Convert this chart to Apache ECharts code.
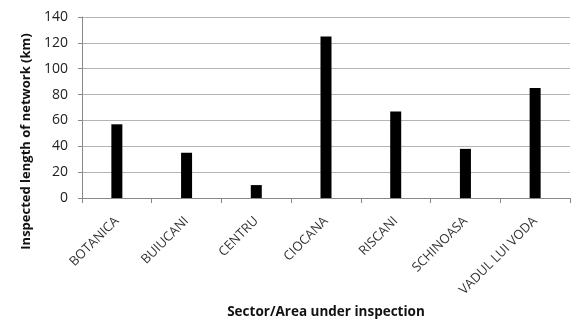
<!DOCTYPE html>
<html>
<head>
<meta charset="utf-8">
<script src="https://cdn.jsdelivr.net/npm/echarts@6/dist/echarts.min.js"></script>
<style>
  html, body { margin: 0; padding: 0; background: #fff; }
  #chart { width: 578px; height: 324px; }
</style>
</head>
<body>
<div id="chart"></div>
<script>
const sectors = ['BOTANICA', 'BUIUCANI', 'CENTRU', 'CIOCANA', 'RISCANI', 'SCHINOASA', 'VADUL LUI VODA'];
const lengthKm = [57, 35, 10, 125, 67, 38, 85];
const yTicks = [0, 20, 40, 60, 80, 100, 120, 140];

const chart = echarts.init(document.getElementById('chart'));
const font = '"Open Sans", "Liberation Sans", sans-serif';

chart.setOption({
  animation: false,
  grid: { left: 82, right: 8, top: 17, bottom: 125 },
  xAxis: {
    type: 'category',
    data: sectors,
    name: 'Sector/Area under inspection',
    nameLocation: 'middle',
    nameGap: 107,
    nameTextStyle: { fontFamily: font, fontSize: 13.5, fontWeight: 'bold', color: '#111' },
    axisLine: { lineStyle: { color: '#888' } },
    axisTick: { show: true, alignWithLabel: false, length: 5, lineStyle: { color: '#888' } },
    axisLabel: {
      rotate: 45,
      interval: 0,
      margin: 21,
      fontFamily: font,
      fontSize: 13,
      color: '#333'
    }
  },
  yAxis: {
    type: 'value',
    min: yTicks[0],
    max: yTicks[yTicks.length - 1],
    interval: 20,
    name: 'Inspected length of network (km)',
    nameLocation: 'middle',
    nameGap: 44,
    nameTextStyle: {
      fontFamily: font, fontSize: 13, fontWeight: 'bold', color: '#111',
      padding: [0, 68, 0, 0]
    },
    axisLine: { show: true, lineStyle: { color: '#888' } },
    axisTick: { show: true, length: 4, lineStyle: { color: '#888' } },
    axisLabel: { fontFamily: font, fontSize: 14, color: '#222', margin: 14 },
    splitLine: { lineStyle: { color: '#b4b4b4', width: 1 } }
  },
  series: [{
    type: 'bar',
    data: lengthKm,
    barWidth: 11,
    itemStyle: { color: '#000' }
  }]
});
</script>
</body>
</html>
